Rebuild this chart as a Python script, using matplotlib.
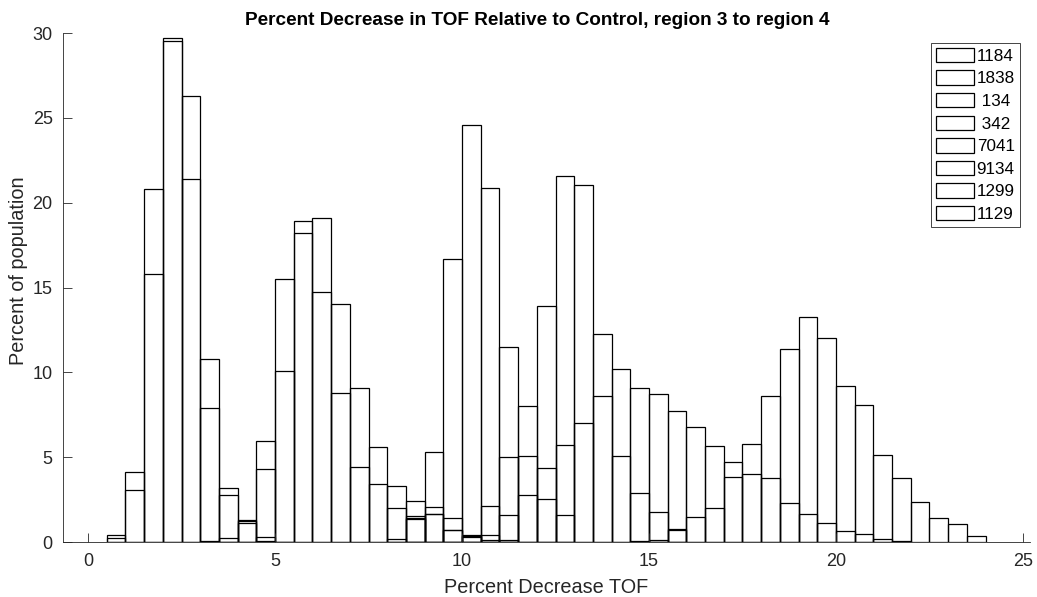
import numpy as np
import matplotlib.pyplot as plt

plt.rcParams['font.family'] = ['Liberation Sans', 'DejaVu Sans']

# percent of population per 0.5-wide bin, each series starts at its own bin edge
labels = ['1184', '1838', ' 134', ' 342', '7041', '9134', '1299', '1129']
starts = [0.5, 0.5, 3.0, 4.5, 8.0, 11.0, 8.5, 14.5]

s1184 = [0.40, 4.15, 20.8, 29.7, 21.4, 10.8, 2.75, 1.24, 0.30, 0.03]
s1838 = [0.25, 3.09, 15.8, 29.55, 26.3, 7.92, 3.2, 1.12, 0.08]
s134 = [0.08, 0.26, 1.32, 5.97, 15.48, 18.23, 19.11, 14.0, 9.07, 5.6, 3.28,
        2.44, 2.05, 1.44, 0.43, 0.41, 0.14]
s342 = [4.32, 10.06, 18.94, 14.73, 8.8, 4.42, 3.42, 1.99, 1.51, 1.67, 0.73,
        0.35, 0.10]
s7041 = [0.18, 1.44, 5.33, 16.7, 24.6, 20.85, 11.52, 5.09, 2.53, 1.57]
s9134 = [5.03, 8.04, 13.93, 21.59, 21.06, 12.26, 5.09, 2.91, 1.75, 0.77]
s1299 = [1.36, 1.67, 0.73, 0.28, 2.14, 1.61, 2.77, 4.38, 5.74, 7.04, 8.59,
         10.22, 9.08, 8.72, 7.72, 6.78, 5.68, 3.83, 3.99, 3.79, 2.30, 1.67,
         1.14, 0.63, 0.49, 0.20, 0.08]
s1129 = [0.04, 0.10, 0.69, 1.46, 2.0, 4.71, 5.8, 8.59, 11.36, 13.26, 12.04,
         9.17, 8.07, 5.15, 3.79, 2.34, 1.44, 1.08, 0.38]

series = [s1184, s1838, s134, s342, s7041, s9134, s1299, s1129]
bw = 0.5

fig = plt.figure(figsize=(10.37, 5.97), dpi=100)
ax = fig.add_axes([0.0608, 0.0921, 0.9325, 0.8526])

for x0, vals, lab in zip(starts, series, labels):
    vals = np.array(vals)
    left = x0 + bw * np.arange(len(vals))
    ax.bar(left, vals, width=bw, align='edge', fill=False,
           edgecolor='black', linewidth=0.9, label=lab)

ax.set_xlim(-0.67, 25.19)
ax.set_ylim(0, 30)
ax.set_xticks(np.arange(0, 26, 5))
ax.set_yticks(np.arange(0, 31, 5))

for s in ['top', 'right']:
    ax.spines[s].set_visible(False)
for s in ['left', 'bottom']:
    ax.spines[s].set_color('#262626')
    ax.spines[s].set_linewidth(0.6)
ax.tick_params(direction='in', length=6.5, width=0.6, colors='#262626',
               labelsize=13)
ax.tick_params(axis='x', pad=8)
ax.tick_params(axis='y', pad=7.5)

ax.set_xlabel('Percent Decrease TOF', fontsize=14.3, color='#262626',
              labelpad=6)
ax.set_ylabel('Percent of population', fontsize=14.3, color='#262626')
ax.yaxis.set_label_coords(-0.036, 0.534)
ax.set_title('Percent Decrease in TOF Relative to Control, region 3 to region 4',
             fontsize=13.7, fontweight='bold', pad=6, x=0.49)

leg = ax.legend(loc='upper right', bbox_to_anchor=(0.9897, 0.981),
                borderaxespad=0, fontsize=12.3, fancybox=False,
                framealpha=1, edgecolor='#262626', handlelength=2.25,
                handleheight=0.92, handletextpad=0.15, labelspacing=0.38,
                borderpad=0.3)
leg.get_frame().set_linewidth(0.6)

fig.savefig('out.png', dpi=100)
